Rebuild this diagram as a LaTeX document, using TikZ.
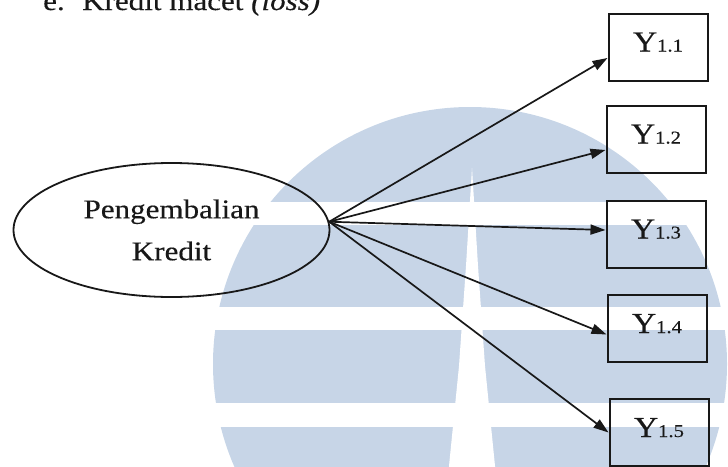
\documentclass[tikz,border=0pt]{standalone}
\usepackage{fontspec}
\setmainfont{Liberation Serif}[FakeStretch=1.15,FakeBold=0.35]
\usetikzlibrary{arrows.meta,shapes.geometric}
\definecolor{wmblue}{RGB}{199,213,231}
\definecolor{ink}{RGB}{24,24,24}
\begin{document}
\begin{tikzpicture}[x=1pt,y=-1pt,
  indic/.style={draw=ink,line width=2pt,minimum width=99pt,minimum height=67pt,
    inner sep=0pt,text=ink,text height=20pt,text depth=11pt},
  latent/.style={ellipse,draw=ink,line width=1.8pt,minimum width=316pt,
    minimum height=134pt,inner sep=0pt,align=center,text=ink,
    font=\fontsize{27}{42}\selectfont},
  load/.style={draw=ink,line width=1.7pt,-{Triangle[length=15pt,width=10pt]}},
  head/.style={anchor=base west,inner sep=0pt,text=ink,font=\fontsize{27}{30}\selectfont},
]
\newcommand{\ind}[1]{\fontsize{29}{30}\selectfont Y\fontsize{18}{20}\selectfont #1}
\useasboundingbox (0,0) rectangle (728,466);
\clip (0,0) rectangle (728,466);

% background emblem
\fill[wmblue] (470,364) circle[radius=257];
\fill[white] (0,202) rectangle (728,225);
\fill[white] (0,307) rectangle (728,330);
\fill[white] (0,403) rectangle (728,427);
\fill[white] (472,168) -- (478,266) -- (485,366) -- (495,466) -- (495,470)
  -- (449,470) -- (449,466) -- (459,366) -- (466,266) -- cycle;

% heading line
\node[head] (itm) at (43,10) {e.};
\node[head] (ttl) at (82,10) {Kredit macet \textit{(loss)}};

% latent construct
\node[latent] (lat) at (171.5,230) {Pengembalian\\Kredit};

% indicators
\node[indic] (b1) at (658,47)  {\ind{1.1}};
\node[indic] (b2) at (656,139) {\ind{1.2}};
\node[indic] (b3) at (656,234) {\ind{1.3}};
\node[indic] (b4) at (657,328.5) {\ind{1.4}};
\node[indic] (b5) at (659,432.5) {\ind{1.5}};

% loadings
\draw[load] (lat.3) -- ([yshift=-11pt]b1.west);
\draw[load] (lat.3) -- ([yshift=-11pt]b2.west);
\draw[load] (lat.3) -- ([yshift=4pt]b3.west);
\draw[load] (lat.3) -- ([yshift=-6pt]b4.west);
\draw[load] (lat.3) -- (b5.west);
\end{tikzpicture}
\end{document}
